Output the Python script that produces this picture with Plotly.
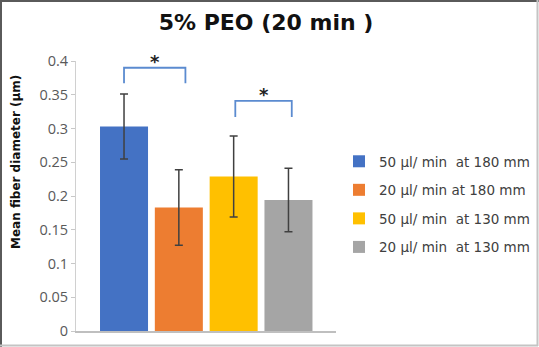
import plotly.graph_objects as go

# ---- data ----
series_names = ["50 μl/ min  at 180 mm", "20 μl/ min at 180 mm",
                "50 μl/ min  at 130 mm", "20 μl/ min  at 130 mm"]
means = [0.303, 0.183, 0.229, 0.194]
errors = [0.048, 0.056, 0.060, 0.047]
colors = ["#4472C4", "#ED7D31", "#FFC000", "#A5A5A5"]
y_ticks = [0, 0.05, 0.1, 0.15, 0.2, 0.25, 0.3, 0.35, 0.4]
y_tick_labels = ["0", "0.05", "0.1", "0.15", "0.2", "0.25", "0.3", "0.35", "0.4"]
# significance brackets: (left x, right x, top y, leg bottom y)
bracket_x0 = [0.0, 2.03]
bracket_x1 = [1.12, 3.06]
bracket_top = [0.390, 0.341]
bracket_bottom = [0.367, 0.317]
bracket_label = ["*", "*"]

TICKFONT = "Open Sans"
TEXTFONT = "DejaVu Sans"

fig = go.Figure()
for i, (n, m, e, c) in enumerate(zip(series_names, means, errors, colors)):
    fig.add_trace(go.Bar(
        x=[i], y=[m], name=n, marker=dict(color=c, line=dict(width=0)),
        width=0.876,
        error_y=dict(type="data", array=[e], visible=True,
                     color="#404040", thickness=1.5, width=4),
        legendgroup=str(i),
    ))

shapes = []
annotations = []
for x0, x1, yt, yb, lab in zip(bracket_x0, bracket_x1, bracket_top, bracket_bottom, bracket_label):
    shapes.append(dict(type="path", xref="x", yref="y",
                       path=f"M {x0} {yb} L {x0} {yt} L {x1} {yt} L {x1} {yb}",
                       line=dict(color="#5B8BD0", width=1.8)))
    annotations.append(dict(x=(x0 + x1) / 2, y=yt, xref="x", yref="y", text="<b>" + lab + "</b>",
                            showarrow=False, yanchor="middle", yshift=6,
                            font=dict(size=18, color="#222222", family=TEXTFONT)))

# frame around the image
W, H = 539, 347
ml, mr, mt, mb = 76, 203, 61, 16
pw, ph = W - ml - mr, H - mt - mb
def px(x):
    return (x - ml) / pw
def py(y):
    return (H - mb - y) / ph
shapes += [
    dict(type="line", xref="paper", yref="paper", x0=px(1), x1=px(1), y0=py(0), y1=py(H),
         line=dict(color="#5a5a5a", width=2)),
    dict(type="line", xref="paper", yref="paper", x0=px(0), x1=px(W), y0=py(1), y1=py(1),
         line=dict(color="#5a5a5a", width=2)),
    dict(type="line", xref="paper", yref="paper", x0=px(537.5), x1=px(537.5), y0=py(0), y1=py(346),
         line=dict(color="#c4c4c4", width=2)),
    dict(type="line", xref="paper", yref="paper", x0=px(0), x1=px(538), y0=py(345.5), y1=py(345.5),
         line=dict(color="#c4c4c4", width=2)),
]

annotations.append(dict(text="<b>Mean fiber diameter (μm)</b>", textangle=-90,
                        xref="paper", yref="paper", x=px(16), y=py(162),
                        xanchor="center", yanchor="middle", showarrow=False,
                        font=dict(size=12, color="#111111", family=TEXTFONT)))

fig.update_layout(
    width=W, height=H,
    margin=dict(l=ml, r=mr, t=mt, b=mb, pad=0, autoexpand=False),
    paper_bgcolor="white", plot_bgcolor="white",
    barmode="overlay",
    title=dict(text="<b>5% PEO (20 min )</b>", x=(266) / W, xanchor="center",
               y=1 - 22 / H, yanchor="middle",
               font=dict(size=22, color="#111111", family=TEXTFONT)),
    showlegend=True,
    legend=dict(x=px(339), xanchor="left", y=py(146), yanchor="top",
                font=dict(size=13.5, color="#404040", family=TEXTFONT),
                traceorder="grouped", tracegroupgap=8, itemwidth=30,
                bgcolor="rgba(0,0,0,0)"),
    xaxis=dict(range=[-0.876, 3.867], showticklabels=False, showgrid=False,
               zeroline=False, showline=True, linecolor="#bfbfbf", linewidth=1.5,
               ticks="", fixedrange=True, automargin=False),
    yaxis=dict(range=[0, 0.4], tickvals=y_ticks, ticktext=y_tick_labels,
               showgrid=False, zeroline=False, showline=True, linecolor="#d0d0d0",
               linewidth=1, ticks="outside", ticklen=4, tickcolor="#c8c8c8",
               automargin=False,
               tickfont=dict(size=14.5, color="#595959", family=TICKFONT)),
    shapes=shapes, annotations=annotations,
)

fig.write_html("out.html", config={"displayModeBar": False},
               post_script="document.body.style.margin='0';document.body.style.overflow='hidden';")
